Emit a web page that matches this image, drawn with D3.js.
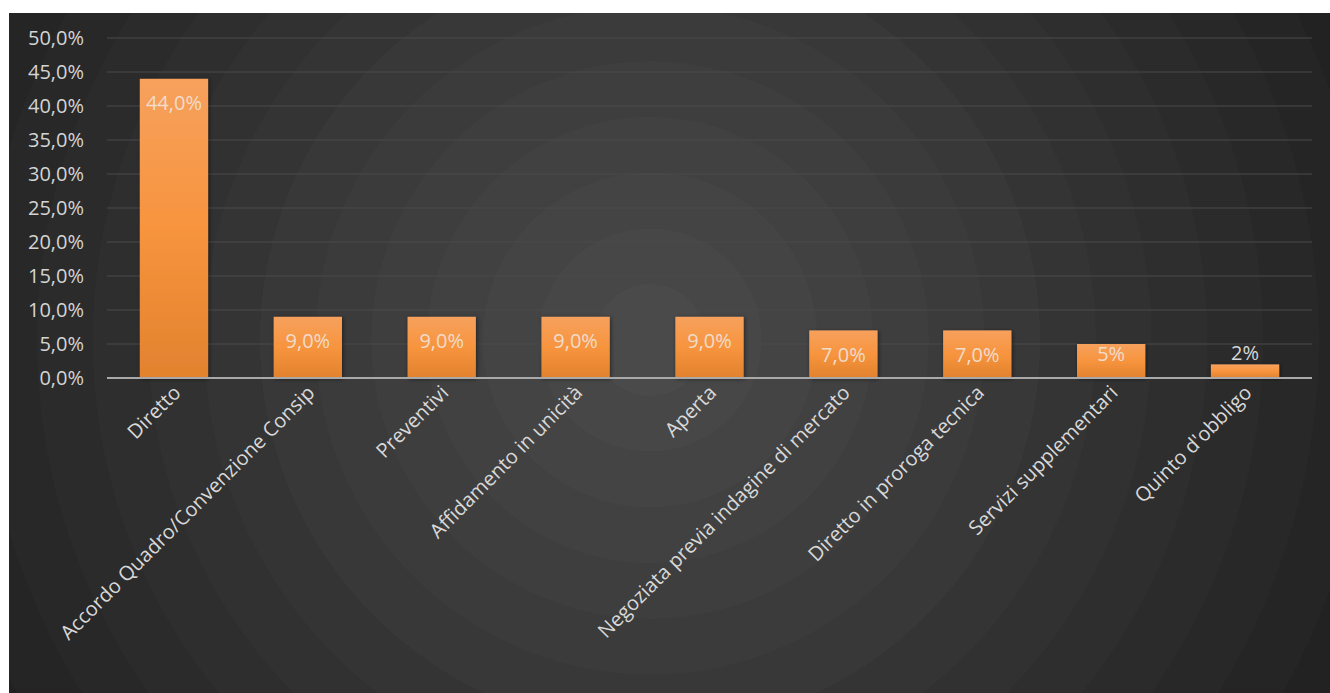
<!DOCTYPE html>
<html>
<head>
<meta charset="utf-8">
<script src="https://cdn.jsdelivr.net/npm/d3@7"></script>
<style>
  body { margin: 0; background: #fff; }
  text { font-family: "Open Sans", "Noto Sans", sans-serif; }
</style>
</head>
<body>
<script>
const width = 1330;
const height = 693;

const categories = ['Diretto', 'Accordo Quadro/Convenzione Consip', 'Preventivi', 'Affidamento in unicità',
  'Aperta', 'Negoziata previa indagine di mercato', 'Diretto in proroga tecnica', 'Servizi supplementari', "Quinto d'obbligo"];
const values = [44, 9, 9, 9, 9, 7, 7, 5, 2];
const valueLabels = ['44,0%', '9,0%', '9,0%', '9,0%', '9,0%', '7,0%', '7,0%', '5%', '2%'];
const yTicks = [0, 5, 10, 15, 20, 25, 30, 35, 40, 45, 50];

const svg = d3.select('body')
  .append('svg')
  .attr('width', width)
  .attr('height', height);

const defs = svg.append('defs');

// banded radial background
const bg = defs.append('radialGradient')
  .attr('id', 'bg')
  .attr('gradientUnits', 'userSpaceOnUse')
  .attr('cx', 650).attr('cy', 340).attr('r', 780);
const bands = 14;
for (let i = 0; i < bands; i++) {
  let c = d3.interpolateRgb('#4a4a4a', '#222222')(i / (bands - 1));
  bg.append('stop').attr('offset', (i / bands)).attr('stop-color', c);
  bg.append('stop').attr('offset', ((i + 1) / bands)).attr('stop-color', c);
}

const barGrad = defs.append('linearGradient')
  .attr('id', 'bar').attr('x1', 0).attr('y1', 0).attr('x2', 0).attr('y2', 1);
barGrad.append('stop').attr('offset', 0).attr('stop-color', '#f7a15d');
barGrad.append('stop').attr('offset', 0.5).attr('stop-color', '#f7943e');
barGrad.append('stop').attr('offset', 1).attr('stop-color', '#e2822e');

const shadow = defs.append('filter').attr('id', 'shadow')
  .attr('x', '-20%').attr('y', '-20%').attr('width', '140%').attr('height', '140%');
shadow.append('feDropShadow').attr('dx', 1).attr('dy', 1).attr('stdDeviation', 2)
  .attr('flood-color', '#000').attr('flood-opacity', 0.5);

svg.append('rect')
  .attr('x', 9).attr('y', 13)
  .attr('width', width - 9).attr('height', height - 13)
  .attr('fill', 'url(#bg)');

const x = d3.scaleBand()
  .domain(categories)
  .range([107, 1312])
  .paddingInner(0.49)
  .paddingOuter(0.245);

const y = d3.scaleLinear()
  .domain([0, 50])
  .range([378, 38]);

// gridlines
svg.append('g')
  .selectAll('line').data(yTicks.filter(d => d > 0))
  .enter().append('line')
    .attr('x1', 107).attr('x2', 1312)
    .attr('y1', d => y(d)).attr('y2', d => y(d))
    .attr('stroke', '#4a4a4a')
    .attr('stroke-width', 1.2);

// y axis labels
const yAxis = svg.append('g')
  .attr('transform', 'translate(84,0)')
  .call(d3.axisLeft(y).tickValues(yTicks).tickSize(0).tickPadding(0)
    .tickFormat(d => d.toFixed(1).replace('.', ',') + '%'));
yAxis.select('.domain').remove();
yAxis.selectAll('text')
  .attr('fill', '#d4d4d4')
  .style('font-size', '20px')
  .style('font-family', '"Open Sans", sans-serif');

// bars
svg.append('g')
  .selectAll('rect').data(values)
  .enter().append('rect')
    .attr('x', (d, i) => x(categories[i]))
    .attr('y', d => y(d))
    .attr('width', x.bandwidth())
    .attr('height', d => y(0) - y(d))
    .attr('fill', 'url(#bar)')
    .attr('filter', 'url(#shadow)');

// zero line
svg.append('line')
  .attr('x1', 107).attr('x2', 1312)
  .attr('y1', y(0)).attr('y2', y(0))
  .attr('stroke', '#a9a9a9')
  .attr('stroke-width', 2);

// value labels
svg.append('g')
  .selectAll('text').data(values)
  .enter().append('text')
    .attr('x', (d, i) => x(categories[i]) + x.bandwidth() / 2)
    .attr('y', d => d < 4 ? y(d) - 10 : (y(0) - y(d) > 45 ? y(d) + 26 : y(d) + 12))
    .attr('text-anchor', 'middle')
    .attr('dominant-baseline', 'middle')
    .attr('fill', d => d < 4 ? '#d8d8d8' : '#f1dccb')
    .style('font-size', '20px')
    .text((d, i) => valueLabels[i]);

// category labels
svg.append('g')
  .selectAll('text').data(categories)
  .enter().append('text')
    .attr('transform', d => 'translate(' + (x(d) + x.bandwidth() / 2 + 8) + ',' + 394 + ') rotate(-45)')
    .attr('text-anchor', 'end')
    .attr('fill', '#d8d8d8')
    .style('font-size', '20px')
    .text(d => d);
</script>
</body>
</html>
